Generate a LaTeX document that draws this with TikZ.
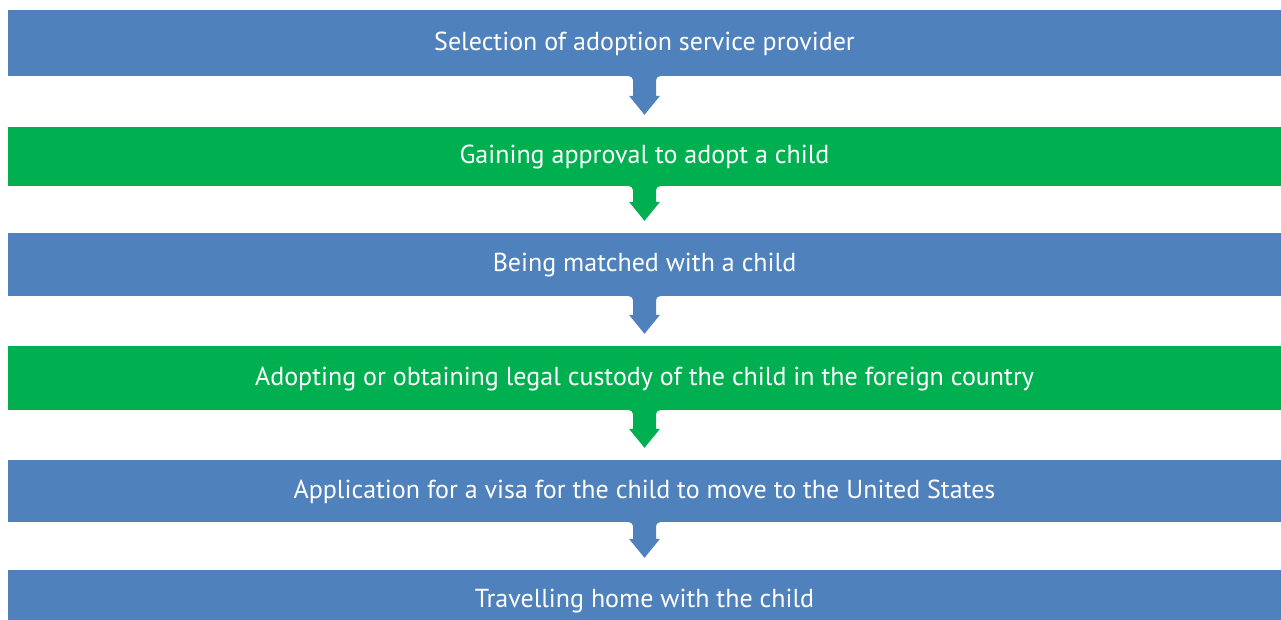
\documentclass[tikz,border=0pt]{standalone}
\usepackage{fontspec}
\setmainfont{PT Sans}
\usetikzlibrary{calc}
\definecolor{boxblue}{HTML}{4F81BD}
\definecolor{boxgreen}{HTML}{00B050}
\tikzset{
  stepbox/.style={minimum width=1273pt, inner sep=0pt, text=white, font=\fontsize{26}{30}\selectfont, text height=18pt, text depth=4pt},
  bluebox/.style={stepbox, fill=boxblue},
  greenbox/.style={stepbox, fill=boxgreen},
}
\newcommand{\flowarrow}[3]{%
  \fill[#3] let \p1=(#1.south), \p2=(#2.north) in
    (\x1-15.5pt,\y1+0.5pt) -- (\x1-15.5pt,\y1) arc[start angle=90,end angle=0,radius=4pt]
    -- (\x1-11.5pt,\y2+31pt) -- (\x1-15.5pt,\y2+31pt) -- (\x1,\y2+12pt)
    -- (\x1+15.5pt,\y2+31pt) -- (\x1+11.5pt,\y2+31pt) -- (\x1+11.5pt,\y1-4pt)
    arc[start angle=180,end angle=90,radius=4pt] -- (\x1+15.5pt,\y1+0.5pt) -- cycle;}
\begin{document}
\begin{tikzpicture}[x=1pt,y=1pt]
\useasboundingbox (0,0) rectangle (1281,-619);
\clip (0,0) rectangle (1281,-619);
\node[bluebox,  minimum height=66pt] (b1) at (644.5,-43)   {Selection of adoption service provider};
\node[greenbox, minimum height=59pt] (b2) at (644.5,-156.5) {Gaining approval to adopt a child};
\node[bluebox,  minimum height=63pt] (b3) at (644.5,-264.5) {Being matched with a child};
\node[greenbox, minimum height=64pt] (b4) at (644.5,-378)  {Adopting or obtaining legal custody of the child in the foreign country};
\node[bluebox,  minimum height=62pt] (b5) at (644.5,-491)  {Application for a visa for the child to move to the United States};
\node[bluebox,  minimum height=60pt] (b6) at (644.5,-600)  {Travelling home with the child};
\flowarrow{b1}{b2}{boxblue}
\flowarrow{b2}{b3}{boxgreen}
\flowarrow{b3}{b4}{boxblue}
\flowarrow{b4}{b5}{boxgreen}
\flowarrow{b5}{b6}{boxblue}
\end{tikzpicture}
\end{document}
